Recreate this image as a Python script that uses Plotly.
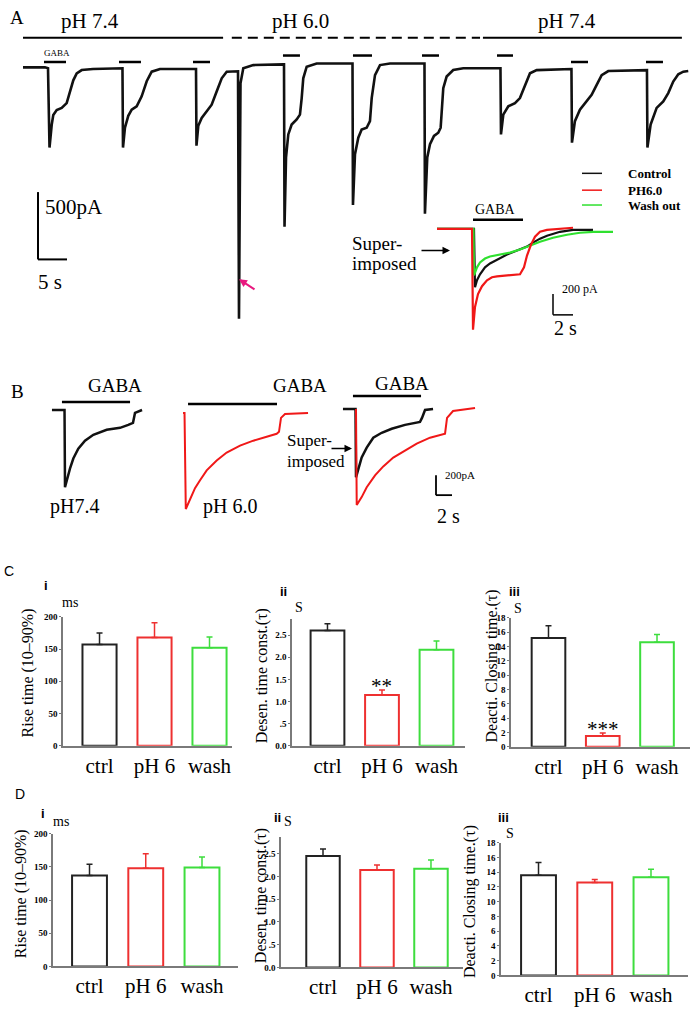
import plotly.graph_objects as go

W, H = 698, 1019
SERIF = "Liberation Serif, Times New Roman, serif"
SANS = "Liberation Sans, Arial, sans-serif"

# ---------------- Panel A: continuous recording (s, pA) ----------------
A_time = [0, 3.79, 4.31, 4.57, 4.95, 5.22, 5.81, 6.67, 7.53, 8.10, 8.67, 9.26, 10.12, 12.07, 16.72,
          17.15, 17.24, 17.58, 18.15, 18.74, 19.60, 20.46, 21.33, 22.19, 23.62, 29.36,
          29.83, 29.91, 30.22, 30.81, 31.67, 32.53, 33.39, 34.26, 35.12, 36.84,
          37.07, 37.24, 37.50, 37.98, 39.70, 44.88,
          45.00, 45.09, 45.35, 45.74, 46.32, 47.19, 47.75, 48.05, 48.32, 48.91, 50.63, 56.67,
          56.81, 56.89, 57.24, 57.81, 58.39, 59.25, 59.82, 60.12, 60.69, 61.55, 63.27, 69.01,
          69.22, 69.30, 69.70, 70.17, 70.86, 71.60, 72.01, 72.46, 73.04, 74.18, 75.91, 81.72,
          82.32, 82.41, 82.81, 83.67, 84.82, 85.68, 86.55, 87.41, 88.56, 94.30,
          94.56, 94.65, 95.16, 96.02, 97.18, 98.04, 98.91, 99.77, 100.91, 107.23,
          107.58, 107.66, 108.21, 109.25, 110.39, 111.25, 112.11, 112.98, 113.84, 114.70]
A_current = [0, 0, -7, -595, -426, -353, -316, -301, -265, -176, -96, -44, -20, -12, -7,
             -7, -595, -448, -360, -314, -289, -215, -103, -32, -12, -12,
             -12, -581, -434, -375, -323, -277, -179, -81, -32, -27,
             -29, -1867, -118, -7, 17, 22,
             22, -1183, -669, -498, -424, -387, -351, -228, -81, 5, 29, 29,
             29, -1022, -645, -522, -461, -448, -399, -228, -57, 17, 29, 29,
             29, -1086, -669, -571, -509, -485, -448, -154, -68, -20, -7, -7,
             -7, -498, -351, -289, -265, -228, -130, -44, -20, -12,
             -12, -559, -399, -314, -252, -204, -130, -57, -27, -20,
             -20, -595, -424, -301, -252, -191, -105, -51, -32, -27]
A_gaba_on = [3.62, 16.55, 29.31, 44.82, 56.89, 68.79, 81.72, 94.48, 107.41]
A_gaba_off = [7.41, 20.34, 32.24, 47.75, 60.17, 71.72, 84.48, 97.41, 110.34]
A_gaba_level = [40, 40, 40, 88, 88, 88, 88, 40, 40]
A_period_labels = ["pH 7.4", "pH 6.0", "pH 7.4"]
A_period_start = [0.0, 36.0, 79.3]
A_period_end = [34.5, 78.8, 113.6]
A_period_level = 220
A_scale_pA = 500
A_scale_s = 5

# inset (superimposed), relative to GABA onset
INS_t_ctrl = [-3.6, 0.1, 0.2, 0.4, 0.7, 1.2, 1.7, 2.4, 3.4, 4.4, 5.4, 6.0, 6.7, 7.4, 8.7, 10.0, 12.0]
INS_I_ctrl = [0, 0, -562, -495, -438, -371, -333, -295, -248, -209, -171, -133, -95, -67, -29, -10, -10]
INS_t_ph6 = [-3.6, -0.1, 0.0, 0.2, 0.5, 0.9, 1.4, 1.9, 2.4, 3.7, 4.7, 5.1, 5.4, 5.8, 6.2, 6.7, 7.4, 10.0]
INS_I_ph6 = [0, 0, -971, -752, -628, -552, -495, -466, -457, -447, -438, -371, -257, -152, -76, -29, -10, 10]
INS_t_wash = [-3.6, 0.05, 0.1, 0.4, 0.7, 1.2, 1.7, 2.7, 3.7, 4.7, 5.7, 6.7, 8.0, 9.4, 10.7, 12.0, 14.0]
INS_I_wash = [0, 0, -447, -371, -324, -286, -267, -248, -229, -200, -162, -124, -86, -57, -38, -29, -29]
INS_gaba = [0.0, 5.0]
INS_legend = ["Control", "PH6.0", "Wash out"]
INS_scale_pA = 200
INS_scale_s = 2

# ---------------- Panel B ----------------
B1_t = [-1.63, -0.38, -0.06, 0, 0.21, 0.63, 1.04, 1.66, 2.5, 3.54, 5.21, 6.88, 7.91, 8.5, 8.75, 9.63]
B1_I = [0, 0, 0, -780, -710, -590, -490, -390, -310, -250, -200, -180, -150, -130, -30, 0]
B1_gaba = [-0.38, 8.13]
B2_t = [-0.25, -0.06, 0.1, 0.63, 1.25, 1.88, 2.71, 3.96, 5.21, 6.88, 8.54, 10.21, 11.46, 11.75, 12.0,
        12.5, 15.38]
B2_I = [0, 0, -970, -880, -760, -680, -580, -480, -400, -330, -280, -240, -210, -190, -50, -10, 0]
B2_gaba = [0.38, 11.5]
B3_t_ctrl = [-1.63, -0.06, 0, 0.29, 0.71, 1.34, 2.16, 3.21, 4.46, 6.13, 7.59, 8.0, 8.25, 8.63, 9.63]
B3_I_ctrl = [0, 0, -690, -600, -490, -390, -290, -240, -200, -160, -140, -130, -90, -10, 0]
B3_t_ph6 = [0, 0.09, 0.71, 1.34, 2.38, 3.41, 4.66, 5.91, 7.59, 9.25, 11.13, 11.38, 12.13, 14.88]
B3_I_ph6 = [0, -970, -890, -790, -670, -580, -490, -430, -350, -290, -250, -90, -20, 10]
B3_gaba = [-0.38, 8.13]
B_labels = ["pH7.4", "pH 6.0"]
B_scale_pA = 200
B_scale_s = 2

# ---------------- Panels C and D (bar charts) ----------------
categories = ["ctrl", "pH 6", "wash"]
C_rise_mean = [157, 168, 152]
C_rise_sem = [18, 23, 17]
C_desen_mean = [2.61, 1.15, 2.17]
C_desen_sem = [0.15, 0.11, 0.20]
C_deact_mean = [15.2, 1.5, 14.6]
C_deact_sem = [1.7, 0.4, 1.1]
D_rise_mean = [137, 148, 149]
D_rise_sem = [17, 22, 16]
D_desen_mean = [2.45, 2.14, 2.17]
D_desen_sem = [0.15, 0.11, 0.19]
D_deact_mean = [13.6, 12.6, 13.3]
D_deact_sem = [1.7, 0.4, 1.1]
rise_ticks = [0, 50, 100, 150, 200]
desen_ticks = [0.0, 0.5, 1.0, 1.5, 2.0, 2.5]
desen_ticktext = ["0.0", ".5", "1.0", "1.5", "2.0", "2.5"]
deact_ticks = [0, 2, 4, 6, 8, 10, 12, 14, 16, 18]

# ---------------- figure ----------------
fig = go.Figure()
layout = {}
BLACK = "#111111"
RED = "#f01818"
GREEN = "#2fe02f"
BAR_COLORS = ["#222222", "#ee3030", "#3ddd3d"]


def px_x(px):
    return px / W


def px_y(py):
    return (H - py) / H


def trace_axes(n, anchor_px, anchor_py, s_per_px, pa_per_px):
    sfx = "" if n == 1 else str(n)
    layout["xaxis" + sfx] = dict(
        domain=[0, 1], range=[-anchor_px * s_per_px, (W - anchor_px) * s_per_px],
        visible=False, fixedrange=True, anchor="y" + sfx)
    layout["yaxis" + sfx] = dict(
        domain=[0, 1], range=[(anchor_py - H) * pa_per_px, anchor_py * pa_per_px],
        visible=False, fixedrange=True, anchor="x" + sfx)


def add_line(n, t, i, color, width=2.2):
    ax = "" if n == 1 else str(n)
    fig.add_trace(go.Scatter(x=t, y=i, mode="lines", line=dict(color=color, width=width),
                             xaxis="x" + ax, yaxis="y" + ax, showlegend=False,
                             hoverinfo="skip"))


shapes = []
annotations = []


def seg(n, x0, y0, x1, y1, color="black", width=2, dash="solid"):
    ax = "" if n == 1 else str(n)
    shapes.append(dict(type="line", xref="x" + ax, yref="y" + ax, x0=x0, y0=y0, x1=x1, y1=y1,
                       line=dict(color=color, width=width, dash=dash)))


def pseg(x0, y0, x1, y1, color="black", width=2):
    shapes.append(dict(type="line", xref="paper", yref="paper", x0=px_x(x0), y0=px_y(y0),
                       x1=px_x(x1), y1=px_y(y1), line=dict(color=color, width=width)))


def text(x, y, s, size, family=SERIF, xanchor="center", weight="normal", color="black", angle=0):
    annotations.append(dict(x=px_x(x), y=px_y(y), xref="paper", yref="paper", text=s,
                            showarrow=False, xanchor=xanchor, yanchor="middle",
                            textangle=angle,
                            font=dict(family=family, size=size, color=color, weight=weight)))


def arrow(x_tip, y_tip, dx, dy, color="black", width=1.5, head=2, size=1.0):
    annotations.append(dict(x=px_x(x_tip), y=px_y(y_tip), xref="paper", yref="paper", text="",
                            showarrow=True, ax=dx, ay=dy, arrowcolor=color, arrowwidth=width,
                            arrowhead=head, arrowsize=size))


# Panel A main
trace_axes(1, 23, 63, 5 / 29, 500 / 68)
add_line(1, A_time, A_current, BLACK, 2.6)
for on, off, lv in zip(A_gaba_on, A_gaba_off, A_gaba_level):
    seg(1, on, lv, off, lv, width=2.5)
for k, (s0, s1) in enumerate(zip(A_period_start, A_period_end)):
    seg(1, s0, A_period_level, s1, A_period_level, width=2,
        dash="solid" if k != 1 else "10px,6px")
# scale bar A
sb_t, sb_i = 2.59, -926
seg(1, sb_t, sb_i, sb_t, sb_i - A_scale_pA, width=2)
seg(1, sb_t, sb_i - A_scale_pA, sb_t + A_scale_s, sb_i - A_scale_pA, width=2)

text(17, 13, "A", 19)
text(90, 16, A_period_labels[0], 21)
text(300, 16, A_period_labels[1], 21)
text(567, 16, A_period_labels[2], 21)
text(57, 48, "GABA", 9)
text(43, 204, "%dpA" % A_scale_pA, 21, xanchor="left")
text(50, 280, "%d s" % A_scale_s, 21)
arrow(239, 277, 17, 11, color="#e8197f", width=2, head=2, size=0.8)

# Inset in A
trace_axes(2, 473, 226, 0.1, 200 / 21)
add_line(2, INS_t_ctrl, INS_I_ctrl, BLACK, 2.2)
add_line(2, INS_t_wash, INS_I_wash, GREEN, 2.2)
add_line(2, INS_t_ph6, INS_I_ph6, RED, 2.2)
seg(2, INS_gaba[0], 86, INS_gaba[1], 86, width=2.5)
seg(2, 8.0, -628, 8.0, -628 - INS_scale_pA, width=1.5)
seg(2, 8.0, -628 - INS_scale_pA, 8.0 + INS_scale_s, -628 - INS_scale_pA, width=1.5)
text(495, 207, "GABA", 14)
text(350, 241, "Super-", 19, xanchor="left")
text(350, 261, "imposed", 19, xanchor="left")
arrow(450, 248, -30, 0)
text(560, 287, "%d pA" % INS_scale_pA, 12, xanchor="left")
text(565, 326, "%d s" % INS_scale_s, 20)
for yy, col, lab in zip([170, 187, 202], [BLACK, RED, GREEN], INS_legend):
    pseg(582, yy, 602, yy, color=col, width=1.5)
    text(626, yy, lab, 13, xanchor="left", weight="bold")

# Panel B
trace_axes(3, 65, 409, 0.125, 10)
trace_axes(4, 185, 412, 0.125, 10)
trace_axes(5, 356, 408, 0.125, 10)
add_line(3, B1_t, B1_I, BLACK, 2.5)
add_line(4, B2_t, B2_I, RED, 2.0)
add_line(5, B3_t_ctrl, B3_I_ctrl, BLACK, 2.5)
add_line(5, B3_t_ph6, B3_I_ph6, RED, 2.0)
seg(3, B1_gaba[0], 80, B1_gaba[1], 80, width=2.5)
seg(4, B2_gaba[0], 90, B2_gaba[1], 90, width=2.5)
seg(5, B3_gaba[0], 130, B3_gaba[1], 130, width=2.5)
seg(5, 10.0, -670, 10.0, -670 - B_scale_pA, width=1.8)
seg(5, 10.0, -670 - B_scale_pA, 10.0 + B_scale_s, -670 - B_scale_pA, width=1.8)
text(17, 390, "B", 19)
text(115, 384, "GABA", 19)
text(300, 384, "GABA", 19)
text(402, 382, "GABA", 19)
text(74, 506, B_labels[0], 20)
text(230, 506, B_labels[1], 20)
text(285, 440, "Super-", 17, xanchor="left")
text(285, 461, "imposed", 17, xanchor="left")
arrow(352, 448, -22, 0)
text(443, 475, "%dpA" % B_scale_pA, 11, xanchor="left")
text(448, 516, "%d s" % B_scale_s, 20)


# Bar charts
def bar_panel(n, box, yrange, xr, means, sems, ticks, ticktext=None):
    x0, x1, ytop, ybot = box
    ax = str(n)
    layout["xaxis" + ax] = dict(domain=[px_x(x0), px_x(x1)], range=xr, type="category",
                                categoryorder="array", categoryarray=categories,
                                anchor="y" + ax, showline=True, linecolor="#7a7a7a", linewidth=1.5,
                                ticks="", showgrid=False, zeroline=False, fixedrange=True,
                                tickfont=dict(family=SERIF, size=21, color="black"))
    layout["yaxis" + ax] = dict(domain=[px_y(ybot), px_y(ytop)], range=yrange,
                                anchor="x" + ax, showline=True, linecolor="#7a7a7a", linewidth=1.5,
                                ticks="outside", ticklen=2, tickcolor="#7a7a7a", tickwidth=1,
                                tickvals=ticks,
                                ticktext=ticktext if ticktext else [str(t) for t in ticks],
                                showgrid=False, zeroline=False, fixedrange=True,
                                tickfont=dict(family=SERIF, size=9, color="black", weight="bold"))
    for cat, m, s, col in zip(categories, means, sems, BAR_COLORS):
        fig.add_trace(go.Bar(x=[cat], y=[m], width=0.62, xaxis="x" + ax, yaxis="y" + ax,
                             marker=dict(color="white", line=dict(color=col, width=2)),
                             error_y=dict(type="data", symmetric=False, array=[s], arrayminus=[0],
                                          color=col, thickness=1.5, width=3),
                             showlegend=False, hoverinfo="skip"))


bar_panel(6, (63, 232, 618, 748), [0, 200], [-0.664, 2.409], C_rise_mean, C_rise_sem, rise_ticks)
bar_panel(7, (292, 465, 620, 748), [0, 2.87], [-0.651, 2.523], C_desen_mean, C_desen_sem,
          desen_ticks, desen_ticktext)
bar_panel(8, (511, 690, 619, 749), [0, 18], [-0.691, 2.608], C_deact_mean, C_deact_sem, deact_ticks)
bar_panel(9, (53, 238, 837, 971), [0, 200], [-0.649, 2.64], D_rise_mean, D_rise_sem, rise_ticks)
bar_panel(10, (281, 463, 840, 972), [0, 2.87], [-0.778, 2.593], D_desen_mean, D_desen_sem,
          desen_ticks, desen_ticktext)
bar_panel(11, (501, 688, 846, 980), [0, 18], [-0.667, 2.658], D_deact_mean, D_deact_sem, deact_ticks)

# significance stars
for ax, m, s, star in [(7, C_desen_mean[1], C_desen_sem[1], "**"),
                       (8, C_deact_mean[1], C_deact_sem[1], "***")]:
    annotations.append(dict(x=categories[1], y=m + s, xref="x%d" % ax, yref="y%d" % ax, text=star,
                            showarrow=False, yanchor="bottom", yshift=-10,
                            font=dict(family=SERIF, size=21, color="black")))

text(9, 572, "C", 14, family=SANS)
text(20, 797, "D", 14, family=SANS)
for (x, y, s) in [(46, 586, "i"), (283, 592, "ii"), (514, 592, "iii"),
                  (43, 817, "i"), (277, 821, "ii"), (503, 821, "iii")]:
    text(x, y, s, 13, family=SANS, weight="bold")
for (x, y, s) in [(70, 603, "ms"), (299, 608, "S"), (518, 609, "S"),
                  (61, 825, "ms"), (288, 825, "S"), (510, 837, "S")]:
    text(x, y, s, 14)
for (x, y, s) in [(28, 675, "Rise time (10\u201390%)"), (262, 678, "Desen. time const.(\u03c4)"),
                  (492, 668, "Deacti. Closing time.(\u03c4)"),
                  (21, 898, "Rise time (10\u201390%)"), (261, 900, "Desen. time const.(\u03c4)"),
                  (470, 906, "Deacti. Closing time.(\u03c4)")]:
    text(x, y, s, 16, angle=-90)

fig.update_layout(width=W, height=H, margin=dict(l=0, r=0, t=0, b=0), autosize=False,
                  paper_bgcolor="white", plot_bgcolor="rgba(0,0,0,0)", barmode="overlay",
                  shapes=shapes, annotations=annotations, showlegend=False, **layout)
fig.write_html("out.html", config={"displayModeBar": False},
               post_script="document.body.style.margin='0';document.body.style.overflow='hidden';")
